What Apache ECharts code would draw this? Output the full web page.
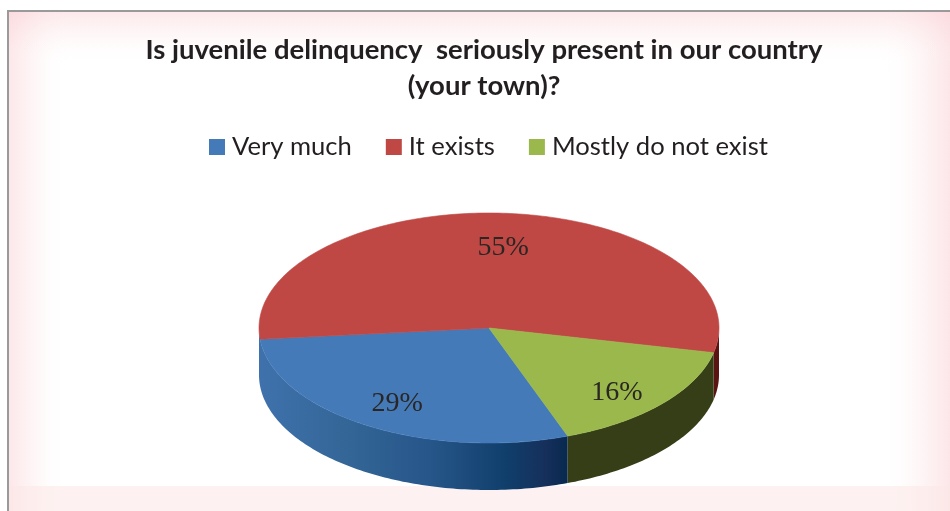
<!DOCTYPE html>
<html><head><meta charset="utf-8">
<style>html,body{margin:0;padding:0;background:#fff}#c{width:950px;height:511px}</style>
<script src="https://cdn.jsdelivr.net/npm/echarts@6/dist/echarts.min.js"></script>
</head><body><div id="c"></div>
<script>
const categories = ['Very much', 'It exists', 'Mostly do not exist'];
const percents = [29, 55, 16];
const titleLines = ['Is juvenile delinquency  seriously present in our country', '(your town)?'];
const topColors = ['#457ab9', '#bf4845', '#9ab84b'];

const cx = 489, cy = 328, rx = 230, ry = 115, depth = 47, startDeg = 70;
const labelShift = [[0, 2], [4, 7], [-2, 7]];
const wallFill = [
  {type:'linear',x:0,y:0,x2:1,y2:0,global:false,colorStops:[
    {offset:0,color:'#3f72ac'},{offset:.3,color:'#336596'},{offset:.55,color:'#27568a'},
    {offset:.8,color:'#103f6c'},{offset:.93,color:'#162f5b'},{offset:1,color:'#07294f'}]},
  '#5a1512',
  '#353e17'
];
const total = percents.reduce((a, b) => a + b, 0);
function range(i) {
  let a = startDeg;
  for (let k = 0; k < i; k++) a += percents[k] / total * 360;
  return [a, a + percents[i] / total * 360];
}
function pt(deg, dy) {
  const r = deg * Math.PI / 180;
  return [cx + rx * Math.cos(r), cy + ry * Math.sin(r) + (dy || 0)];
}
function arc(a, b, dy) {
  const n = Math.max(2, Math.ceil(Math.abs(b - a)));
  const out = [];
  for (let k = 0; k <= n; k++) out.push(pt(a + (b - a) * k / n, dy));
  return out;
}
function renderTop(i) {
  const [a, b] = range(i), mid = (a + b) / 2, p = [[cx, cy]].concat(arc(a, b));
  const m = mid * Math.PI / 180;
  return {type:'group', children:[
    {type:'polygon', shape:{points:p}, style:{fill:topColors[i], stroke:topColors[i], lineWidth:.6}},
    {type:'text', z2:10, style:{text:percents[i] + '%', x:cx + .75 * rx * Math.cos(m) + labelShift[i][0],
      y:cy + .76 * ry * Math.sin(m) + labelShift[i][1], align:'center', verticalAlign:'middle',
      font:'28px "Liberation Serif"', fill:'#2a2623'}}
  ]};
}
function renderWall(i) {
  let [a, b] = range(i);
  const kids = [];
  // the reference carries the first slice's wall round to the left rim
  if (i === 0) b = Math.max(b, 180);
  if (i === 1) a = Math.max(a, 180);
  for (const base of [0, 360]) {
    const s = Math.max(a, base), e = Math.min(b, base + 180);
    if (e > s) {
      const p = arc(s, e, 0).concat(arc(e, s, depth));
      kids.push({type:'polygon', shape:{points:p}, style:{fill:wallFill[i], stroke:null}});
    }
  }
  return {type:'group', children:kids};
}
const fade = (x, y, w, h, x1, y1, x2, y2, a) => ({type:'rect', silent:true, shape:{x, y, width:w, height:h},
  style:{fill:{type:'linear', x:x1, y:y1, x2, y2, colorStops:[
    {offset:0,color:`rgba(250,205,210,${a})`},{offset:.5,color:`rgba(250,215,218,${a*.35})`},{offset:1,color:'rgba(255,255,255,0)'}]}}});

const option = {
  animation:false, backgroundColor:'#fff',
  title:{text:titleLines.join('\n'), left:479, top:27, textAlign:'center',
    textStyle:{fontFamily:'Lato', fontWeight:'bold', fontSize:27.5, lineHeight:36, color:'#231f20'}},
  legend:{data:categories, left:204, top:129, itemWidth:16, itemHeight:16, itemGap:34, icon:'rect',
    textStyle:{fontFamily:'Lato', fontSize:25.6, color:'#231f20', padding:[0,0,0,2]}},
  graphic:[
    {type:'group', silent:true, z:-5, children:[
      fade(8, 11, 60, 500, 0, 0, 1, 0, .5),
      fade(880, 11, 70, 500, 1, 0, 0, 0, .5),
      fade(8, 11, 942, 55, 0, 0, 0, 1, .45),
      {type:'rect', shape:{x:8, y:486, width:942, height:25}, style:{fill:'rgba(252,232,230,.55)'}},
      {type:'rect', shape:{x:7, y:10, width:2, height:501}, style:{fill:'#9a9a9a'}},
      {type:'rect', shape:{x:7, y:10, width:943, height:2}, style:{fill:'#9a9a9a'}}
    ]}
  ],
  series:[
    {type:'custom', name:'walls', coordinateSystem:'none', z:2, silent:true,
      data:percents.map((v, i) => ({value:[i, v]})),
      renderItem:(p) => renderWall(p.dataIndex)},
    ...categories.map((name, i) => ({type:'custom', name, coordinateSystem:'none', z:3, silent:true,
      itemStyle:{color:topColors[i]}, data:[{value:[i, percents[i]]}],
      renderItem:() => renderTop(i)}))
  ]
};
echarts.init(document.getElementById('c'), null, {renderer:'canvas'}).setOption(option);
</script></body></html>
